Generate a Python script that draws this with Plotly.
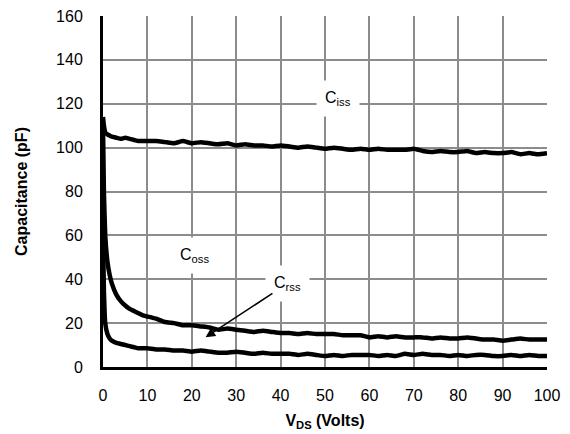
import plotly.graph_objects as go

vds = [0, 0.2, 0.5, 1, 1.5, 2, 3, 4, 5, 6, 7, 8, 9, 10,
       12, 14, 16, 18, 20, 22, 24, 26, 28, 30, 32, 34, 36, 38, 40,
       42, 44, 46, 48, 50, 52, 54, 56, 58, 60, 62, 64, 66, 68, 70,
       72, 74, 76, 78, 80, 82, 84, 86, 88, 90, 92, 94, 96, 98, 100]

ciss = [114, 110, 107, 106, 105.5, 105, 104.5, 104, 104.5, 104, 103.5, 103, 103, 103,
        103, 102.5, 102, 103, 102, 102.5, 102, 101.5, 102, 101, 101.5, 101, 101, 100.5, 101,
        100.5, 100, 100.5, 100, 99.5, 100, 99.5, 99, 99.5, 99, 99.5, 99, 99, 99, 99.5,
        98.5, 98, 98.5, 98, 98, 98.5, 97.5, 98, 97.5, 97.5, 98, 97, 97.5, 97, 97.5]

coss = [110, 80, 60, 48, 42, 38, 33, 30, 28, 26.5, 25.5, 24.5, 23.5, 23,
        22, 20.5, 20, 19, 19, 18.5, 18, 17, 17.5, 17, 16.5, 16, 16.5, 16, 15.5,
        15.5, 15, 15.5, 15, 15, 15, 14.5, 14.5, 14.5, 13.5, 14, 13.5, 14, 13.5, 13.5,
        13.5, 13, 13.5, 13, 13, 13.5, 13, 12.5, 12.5, 12, 12.5, 13, 12.5, 12.5, 12.5]

crss = [60, 35, 20, 15, 13, 12, 11, 10.5, 10, 9.5, 9, 8.5, 8.5, 8.5,
        8, 8, 7.5, 7.5, 7, 7.5, 7, 6.5, 6.5, 7, 6.5, 6, 6.5, 6, 6,
        6, 5.5, 6, 5.5, 5, 5.5, 5, 5.5, 5.5, 5.5, 5, 5.5, 5, 6, 5.5,
        6, 5.5, 5.5, 5, 5.5, 5, 5.5, 5.5, 5, 5, 5.5, 5, 5.5, 5, 5]

x_ticks = [0, 10, 20, 30, 40, 50, 60, 70, 80, 90, 100]
y_ticks = [0, 20, 40, 60, 80, 100, 120, 140, 160]

labels = [
    ("C<sub>iss</sub>", 53.0, 122.5),
    ("C<sub>oss</sub>", 20.5, 51),
    ("C<sub>rss</sub>", 41.5, 38),
]
arrow_head = (23.1, 13.6)
arrow_tail = (38.5, 34)

FONT = "Liberation Sans, Arial, sans-serif"
fig = go.Figure()
for name, ys in [("Ciss", ciss), ("Coss", coss), ("Crss", crss)]:
    fig.add_trace(go.Scatter(x=vds, y=ys, mode="lines", name=name,
                             line=dict(color="black", width=4.5, shape="spline", smoothing=0.3),
                             showlegend=False))

for txt, lx, ly in labels:
    fig.add_annotation(x=lx, y=ly, text=txt, showarrow=False, bgcolor="white",
                       borderpad=8, font=dict(size=16, color="black", family=FONT))

fig.add_annotation(x=arrow_head[0], y=arrow_head[1], ax=arrow_tail[0], ay=arrow_tail[1],
                   axref="x", ayref="y", xref="x", yref="y", text="", showarrow=True,
                   arrowhead=2, arrowsize=1.2, arrowwidth=1.6, arrowcolor="black")

# page body adds an 8px offset; margins compensate
fig.update_layout(
    width=570, height=434,
    margin=dict(l=95, r=31, t=8, b=75, autoexpand=False),
    paper_bgcolor="white", plot_bgcolor="white",
    font=dict(family=FONT, size=16, color="black"),
)
fig.update_xaxes(range=[0, 100], tickvals=x_ticks, showgrid=True, gridcolor="#8c8c8c",
                 gridwidth=2, showline=True, linecolor="black", linewidth=3,
                 zeroline=False, ticks="", ticklabelstandoff=12, automargin=False,
                 ticklabeloverflow="allow",
                 title=dict(text="<b>V<sub>DS</sub> (Volts)</b>", standoff=12,
                            font=dict(size=16, family=FONT)))
fig.update_yaxes(range=[0, 160], tickvals=y_ticks, showgrid=True, gridcolor="#8c8c8c",
                 gridwidth=2, showline=True, linecolor="black", linewidth=3,
                 zeroline=False, ticks="", ticklabelstandoff=14, automargin=False,
                 ticklabeloverflow="allow",
                 title=dict(text="<b>Capacitance (pF)</b>", standoff=25,
                            font=dict(size=16, family=FONT)))

fig.write_html("out.html")
